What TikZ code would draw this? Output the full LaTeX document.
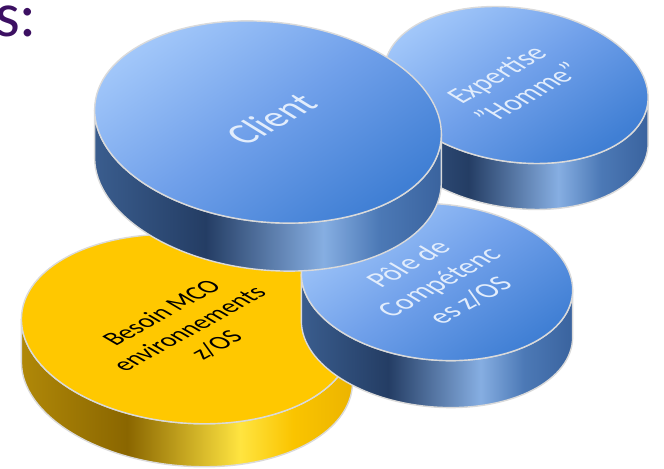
\documentclass[tikz,border=0pt]{standalone}
\usepackage{fontspec}
\setmainfont{Carlito}
\usepackage{xcolor}
\usepackage{tikz}

\definecolor{titlepurple}{RGB}{60,16,98}
\definecolor{toplight}{RGB}{163,200,250}
\definecolor{topmid}{RGB}{112,160,234}
\definecolor{topdark}{RGB}{64,127,212}
\definecolor{sideleft}{RGB}{58,93,142}
\definecolor{sidedark}{RGB}{36,61,100}
\definecolor{sidelight}{RGB}{134,174,226}
\definecolor{sidemid}{RGB}{76,121,182}
\definecolor{sideright}{RGB}{58,99,158}
\definecolor{goldface}{RGB}{255,200,0}
\definecolor{goldleft}{RGB}{176,136,8}
\definecolor{golddark}{RGB}{138,102,0}
\definecolor{goldlight}{RGB}{255,228,64}
\definecolor{goldmid}{RGB}{250,196,0}
\definecolor{goldright}{RGB}{236,180,0}
\definecolor{rim}{RGB}{218,218,218}
\definecolor{facetext}{RGB}{226,237,252}

\pgfdeclareverticalshading{bluetop}{100bp}{color(0bp)=(topdark); color(25bp)=(topdark); color(50bp)=(topmid); color(75bp)=(toplight); color(100bp)=(toplight)}
\pgfdeclareverticalshading{goldtop}{100bp}{color(0bp)=(goldface); color(100bp)=(goldface)}
\pgfdeclarehorizontalshading{blueside}{100bp}{color(0bp)=(sideleft); color(25bp)=(sideleft); color(41bp)=(sidedark); color(58bp)=(sidelight); color(66bp)=(sidemid); color(75bp)=(sideright); color(100bp)=(sideright)}
\pgfdeclarehorizontalshading{goldside}{100bp}{color(0bp)=(goldleft); color(25bp)=(goldleft); color(41bp)=(golddark); color(58bp)=(goldlight); color(66bp)=(goldmid); color(75bp)=(goldright); color(100bp)=(goldright)}

\begin{document}
\begin{tikzpicture}[x=0.03cm, y=0.03cm,
    facelabel/.style={text=facetext, align=center},
    goldlabel/.style={text=black, align=center}]
  \useasboundingbox (0,0) rectangle (664,468);
  \foreach \cx/\cy/\rx/\ry/\rot/\th/\face/\side in {
      187/139/166/94/-5/43/goldtop/goldside,
      437/186/136/78/-5/47/bluetop/blueside,
      516/383/133/77/-8/46/bluetop/blueside,
      268/346/174/100/-6/48/bluetop/blueside}{
    \begin{scope}[shift={(\cx,\cy)}, rotate=\rot]
      \pgfmathsetmacro\tang{atan(-\ry*tan(\rot)/\rx)}
      \pgfmathsetmacro\offx{-\th*sin(\rot)}
      \pgfmathsetmacro\offy{-\th*cos(\rot)}
      \shade[shading=\side, draw=rim, line width=1.2pt] ({\tang}:{\rx} and {\ry}) -- ++(\offx,\offy)
        arc[start angle=\tang, end angle=\tang-180, x radius=\rx, y radius=\ry]
        -- ++(-\offx,-\offy)
        arc[start angle=\tang-180, end angle=\tang, x radius=\rx, y radius=\ry] -- cycle;
      \shade[shading=\face, shading angle=35, draw=rim, line width=1.2pt]
        (0,0) ellipse [x radius=\rx, y radius=\ry];
    \end{scope}
  }
  \node[anchor=base west, inner sep=0pt, text=titlepurple, font=\fontsize{54}{60}\selectfont] (title) at (-5,431) {s:};
  \node[goldlabel, font=\fontsize{27}{32}\selectfont, rotate=-5, yscale=0.566, rotate=50] (besoin) at (189,139) {Besoin MCO\\environnements\\z/OS};
  \node[facelabel, font=\fontsize{30}{36}\selectfont, rotate=-5, yscale=0.574, rotate=50] (pole) at (439,186) {Pôle de\\Compétenc\\es z/OS};
  \node[facelabel, font=\fontsize{30}{36}\selectfont, rotate=-8, yscale=0.579, rotate=53] (expertise) at (512,384) {Expertise\\"Homme"};
  \node[facelabel, font=\fontsize{40}{48}\selectfont, rotate=-6, yscale=0.575, rotate=50] (client) at (271,349) {Client};
\end{tikzpicture}
\end{document}
